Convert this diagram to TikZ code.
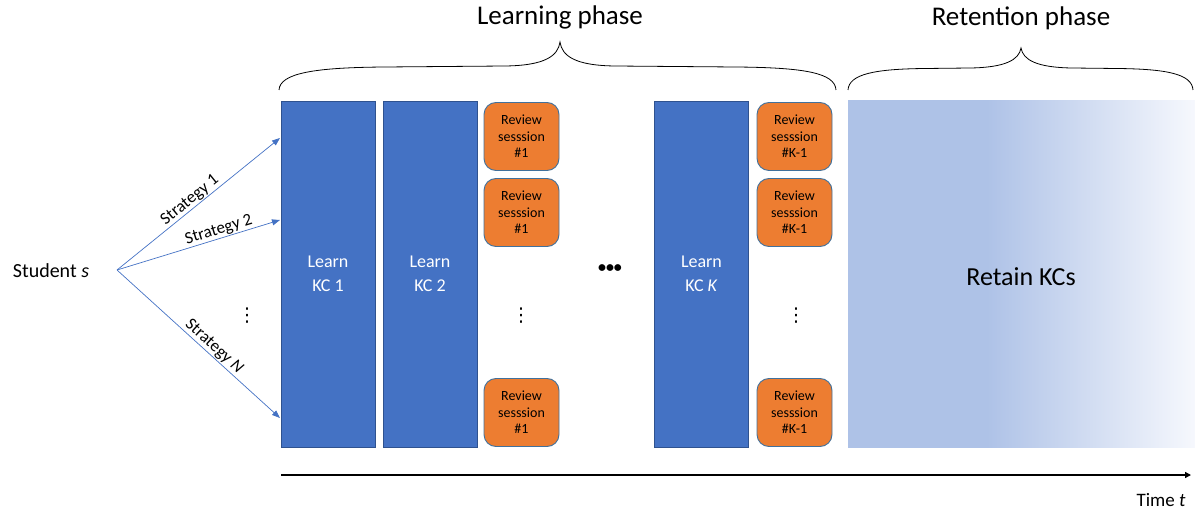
\documentclass[tikz,border=0pt]{standalone}
\usepackage{fontspec}
\setmainfont{Carlito}
\newfontfamily\symfont{DejaVu Sans}
\usetikzlibrary{arrows.meta}
\definecolor{kcblue}{HTML}{4472C4}
\definecolor{kcedge}{HTML}{2F528F}
\definecolor{revor}{HTML}{ED7D31}
\definecolor{revedge}{HTML}{41719C}
\definecolor{retblue}{HTML}{AEC2E7}
\definecolor{fadew}{HTML}{F6F8FD}
\pgfdeclarehorizontalshading{retainshade}{100bp}{color(0bp)=(retblue); color(25bp)=(retblue); color(45bp)=(retblue); color(75bp)=(fadew); color(100bp)=(fadew)}
\tikzset{
  learnbox/.style={rectangle, fill=kcblue, draw=kcedge, line width=0.8pt, minimum width=94pt, minimum height=346pt, inner sep=0pt, text=white, align=center, font=\fontsize{18}{24}\selectfont},
  revbox/.style={rectangle, rounded corners=12pt, fill=revor, draw=revedge, line width=0.9pt, minimum width=75pt, minimum height=68pt, inner sep=0pt, align=center, font=\fontsize{14}{16.5}\selectfont},
  stratarrow/.style={draw=kcblue, line width=0.7pt, -{Triangle[length=8pt,width=6pt]}},
  stratlabel/.style={font=\fontsize{17}{19}\selectfont, sloped, above, inner sep=1pt},
  bracepath/.style={draw=black, line width=0.8pt},
  phaselabel/.style={font=\fontsize{27}{30}\selectfont},
  vdotsnode/.style={font=\symfont\fontsize{19}{19}\selectfont, inner sep=0pt},
}
\begin{document}
\begin{tikzpicture}[x=1pt,y=-1pt]
\useasboundingbox (0,0) rectangle (1195,513);
% student and strategies
\node[font=\fontsize{20}{24}\selectfont] (student) at (51,271) {Student \textit{s}};
\coordinate (src) at (117,270);
\node[learnbox] (kc1) at (328,274) {Learn\\KC 1};
\node[learnbox] (kc2) at (430,274) {Learn\\KC 2};
\node[learnbox] (kck) at (701.5,274) {Learn\\KC \textit{K}};
\coordinate (t1) at (280,138);
\coordinate (t2) at (280,220);
\coordinate (tn) at (280,418);
\draw[stratarrow] (src) -- node[stratlabel, pos=0.48] {Strategy 1} (t1);
\draw[stratarrow] (src) -- node[stratlabel, pos=0.64] {Strategy 2} (t2);
\draw[stratarrow] (src) -- node[stratlabel, pos=0.56] {Strategy \textit{N}} (tn);
\node[vdotsnode] (ldots) at (247,316) {⋮};
% review sessions column 1
\node[revbox] (r1a) at (521.5,136.5) {Review\\sesssion\\\#1};
\node[revbox] (r1b) at (521.5,212.5) {Review\\sesssion\\\#1};
\node[revbox] (r1c) at (521.5,412.5) {Review\\sesssion\\\#1};
\node[vdotsnode] (r1dots) at (521,316) {⋮};
% middle dots
\node[font=\fontsize{16}{16}\selectfont\bfseries, inner sep=0pt] (hdots) at (610,269) {•••};
% review sessions column 2
\node[revbox] (r2a) at (794.5,136.5) {Review\\sesssion\\\#K-1};
\node[revbox] (r2b) at (794.5,212.5) {Review\\sesssion\\\#K-1};
\node[revbox] (r2c) at (794.5,412.5) {Review\\sesssion\\\#K-1};
\node[vdotsnode] (r2dots) at (796,316) {⋮};
% retention
\node[rectangle, minimum width=347pt, minimum height=346pt, inner sep=0pt, shading=retainshade] (retain) at (1021.5,274) {};
\node[font=\fontsize{26}{30}\selectfont] (retaintext) at (1021,277) {Retain KCs};
% braces
\draw[bracepath] (279,90) .. controls (280,73) and (315,67.5) .. (385,67) -- (505,66)
  .. controls (545,65.5) and (558,56) .. (560,42)
  .. controls (562,56) and (575,65.5) .. (615,66) -- (735,67)
  .. controls (805,67.5) and (835,73) .. (836,90);
\node[phaselabel] (lphase) at (560,17) {Learning phase};
\draw[bracepath] (848,90) .. controls (849,74) and (875,69) .. (925,68.5) -- (970,68)
  .. controls (1005,67.5) and (1019,60) .. (1021,48)
  .. controls (1023,60) and (1037,67.5) .. (1072,68) -- (1117,68.5)
  .. controls (1167,69) and (1192,74) .. (1193,90);
\node[phaselabel] (rphase) at (1021,18) {Retention phase};
% time axis
\coordinate (ta) at (281,475);
\coordinate (tb) at (1191,475);
\draw[line width=1.3pt, -{Triangle[length=6pt,width=6pt]}] (ta) -- (tb);
\node[font=\fontsize{19}{22}\selectfont, anchor=east] (time) at (1189,500) {Time \textit{t}};
\end{tikzpicture}
\end{document}
